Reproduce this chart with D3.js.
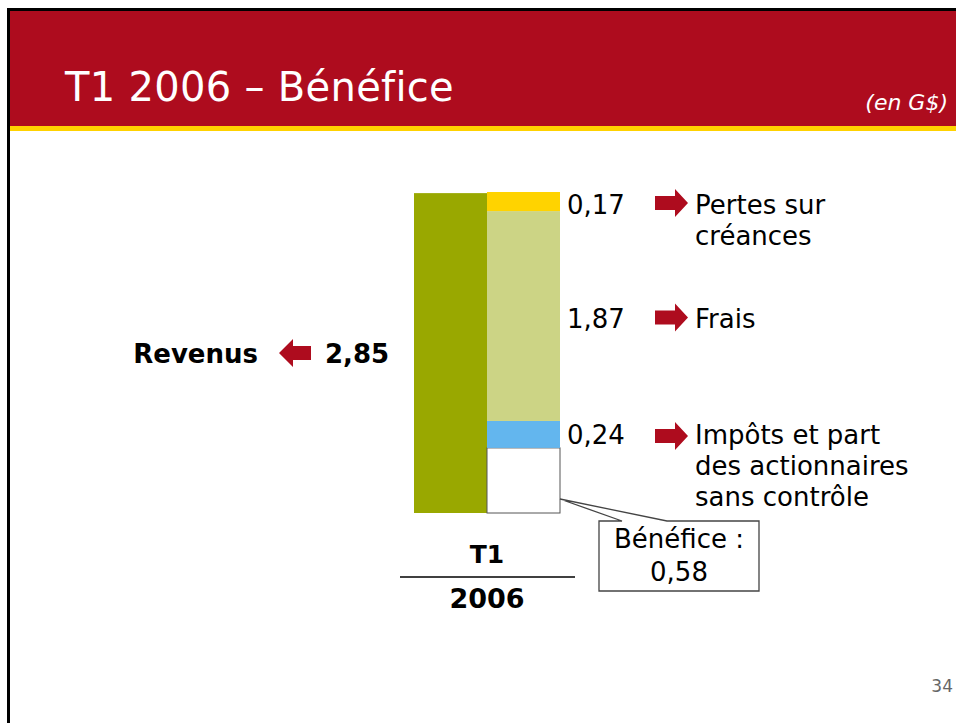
<!DOCTYPE html>
<html>
<head>
<meta charset="utf-8">
<script src="https://cdn.jsdelivr.net/npm/d3@7"></script>
<style>
  html, body { margin: 0; padding: 0; background: #fff; }
  svg { display: block; font-family: "DejaVu Sans", Verdana, sans-serif; }
</style>
</head>
<body>
<div class="canvas"></div>
<script>
// values in G$
const titleText = 'T1 2006 – Bénéfice';
const unitText = '(en G$)';
const revenueLabel = 'Revenus';
const revenueValue = 2.85;
const segments = ['Bénéfice', 'Impôts', 'Frais', 'Pertes'];
const segmentValues = [0.58, 0.24, 1.87, 0.17];
const segmentLabels = ['0,58', '0,24', '1,87', '0,17'];
const segmentNotes = [
  null,
  ['Impôts et part', 'des actionnaires', 'sans contrôle'],
  ['Frais'],
  ['Pertes sur', 'créances']
];
const columns = ['Revenus', 'Composantes'];
const periodLabels = ['T1', '2006'];
const pageNumber = '34';

const red = '#ae0c1e';
const segColors = ['#ffffff', '#63b6ee', '#ccd485', '#ffd300'];

const svg = d3.select('.canvas')
  .append('svg')
  .attr('width', 956)
  .attr('height', 723);

// slide frame + header band
svg.append('rect').attr('x', 0).attr('y', 0).attr('width', 956).attr('height', 723).attr('fill', '#fff');
svg.append('rect').attr('x', 10).attr('y', 11).attr('width', 946).attr('height', 115).attr('fill', red);
svg.append('rect').attr('x', 10).attr('y', 126).attr('width', 946).attr('height', 5).attr('fill', '#ffd200');
svg.append('rect').attr('x', 7).attr('y', 8).attr('width', 3).attr('height', 715).attr('fill', '#000');
svg.append('rect').attr('x', 7).attr('y', 8).attr('width', 949).attr('height', 3).attr('fill', '#000');

svg.append('text')
  .attr('x', 65).attr('y', 101)
  .attr('fill', '#fff')
  .style('font-size', '40px')
  .style('letter-spacing', '0.3px')
  .text(titleText);

svg.append('text')
  .attr('x', 948).attr('y', 110)
  .attr('text-anchor', 'end')
  .attr('fill', '#fff')
  .style('font-size', '22px')
  .style('font-style', 'italic')
  .text(unitText);

// scales
const total = d3.sum(segmentValues);
const y = d3.scaleLinear().domain([0, total]).range([513, 192]);
const x = d3.scaleBand().domain(columns).range([414, 560]).padding(0);

// revenue bar
svg.append('rect')
  .attr('x', x('Revenus'))
  .attr('y', y(revenueValue))
  .attr('width', x.bandwidth())
  .attr('height', y(0) - y(revenueValue))
  .attr('fill', '#99a800');

// stacked components
const stack = d3.stack().keys(segments)([Object.fromEntries(segments.map((k, i) => [k, segmentValues[i]]))]);
const segData = stack.map((s, i) => ({ key: s.key, y0: s[0][0], y1: s[0][1], i }));

svg.selectAll('rect.seg')
  .data(segData)
  .enter()
  .append('rect')
  .attr('class', 'seg')
  .attr('x', x('Composantes'))
  .attr('y', d => y(d.y1))
  .attr('width', x.bandwidth())
  .attr('height', d => y(d.y0) - y(d.y1))
  .attr('fill', d => segColors[d.i])
  .attr('stroke', d => d.i === 0 ? '#555' : 'none')
  .attr('stroke-width', 1);

// arrow shapes
function rightArrow(x0, cy) {
  return `M${x0},${cy - 7} L${x0 + 20},${cy - 7} L${x0 + 20},${cy - 14} L${x0 + 33},${cy} L${x0 + 20},${cy + 14} L${x0 + 20},${cy + 7} L${x0},${cy + 7} Z`;
}
function leftArrow(x0, cy) {
  return `M${x0},${cy} L${x0 + 14},${cy - 14} L${x0 + 14},${cy - 7} L${x0 + 32},${cy - 7} L${x0 + 32},${cy + 7} L${x0 + 14},${cy + 7} L${x0 + 14},${cy + 14} Z`;
}

// labels for the top three segments
const labelled = segData.filter(d => d.i > 0);
const xr = x('Composantes') + x.bandwidth();

labelled.forEach(d => {
  const cy = (y(d.y0) + y(d.y1)) / 2;
  const base = cy + (d.i === 1 ? 10 : 12);
  svg.append('text')
    .attr('x', xr + 7).attr('y', base)
    .style('font-size', '26px')
    .attr('fill', '#000')
    .text(segmentLabels[d.i]);
  svg.append('path')
    .attr('d', rightArrow(655, cy + 1.5))
    .attr('fill', red);
  const t = svg.append('text')
    .attr('x', 695).attr('y', base)
    .style('font-size', '26px')
    .attr('fill', '#000');
  segmentNotes[d.i].forEach((line, j) => {
    t.append('tspan').attr('x', 695).attr('y', base + j * 31).text(line);
  });
});

// revenue label
const ry = (y(0) + y(revenueValue)) / 2;
svg.append('text')
  .attr('x', 258).attr('y', ry + 10)
  .attr('text-anchor', 'end')
  .style('font-size', '26px').style('font-weight', 'bold')
  .text(revenueLabel);
svg.append('path').attr('d', leftArrow(279, ry)).attr('fill', red);
svg.append('text')
  .attr('x', 325).attr('y', ry + 10)
  .style('font-size', '26px').style('font-weight', 'bold')
  .text(d3.format('.2f')(revenueValue).replace('.', ','));

// period label
const cx = (x('Revenus') + xr) / 2;
svg.append('text')
  .attr('x', cx).attr('y', 563)
  .attr('text-anchor', 'middle')
  .style('font-size', '25px').style('font-weight', 'bold')
  .text(periodLabels[0]);
svg.append('line')
  .attr('x1', 400).attr('x2', 575).attr('y1', 577).attr('y2', 577)
  .attr('stroke', '#000').attr('stroke-width', 1.5);
svg.append('text')
  .attr('x', cx).attr('y', 608)
  .attr('text-anchor', 'middle')
  .style('font-size', '27px').style('font-weight', 'bold')
  .text(periodLabels[1]);

// callout for profit
const profit = segData[0];
const px = xr, py = y(profit.y0) - 14;
const bx0 = 599, bx1 = 759, by0 = 521, by1 = 591;
svg.append('path')
  .attr('d', `M${bx0},${by0} L622,${by0} L${px},${py} L667,${by0} L${bx1},${by0} L${bx1},${by1} L${bx0},${by1} Z`)
  .attr('fill', '#fff')
  .attr('stroke', '#444')
  .attr('stroke-width', 1.3);
svg.append('text')
  .attr('x', (bx0 + bx1) / 2).attr('y', 548)
  .attr('text-anchor', 'middle')
  .style('font-size', '26px')
  .text(segments[0] + ' :');
svg.append('text')
  .attr('x', (bx0 + bx1) / 2).attr('y', 581)
  .attr('text-anchor', 'middle')
  .style('font-size', '26px')
  .text(segmentLabels[0]);

svg.append('text')
  .attr('x', 953).attr('y', 692)
  .attr('text-anchor', 'end')
  .attr('fill', '#666')
  .style('font-size', '17px')
  .text(pageNumber);
</script>
</body>
</html>
